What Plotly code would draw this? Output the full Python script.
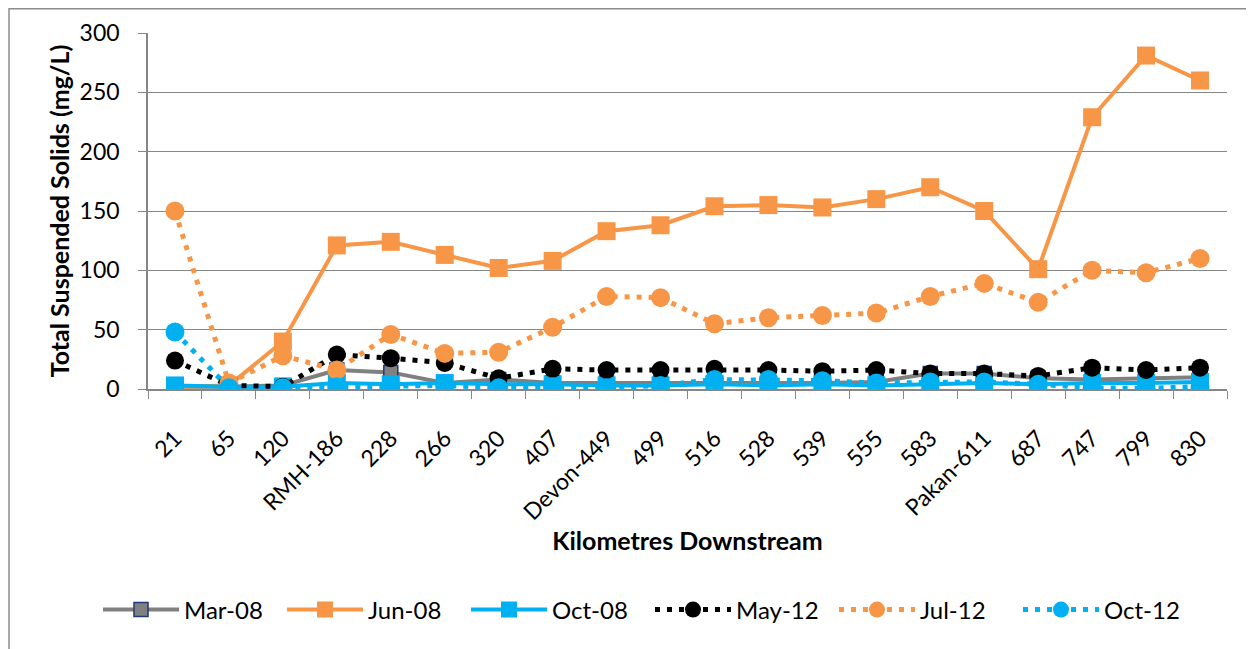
import plotly.graph_objects as go

categories = ["21", "65", "120", "RMH-186", "228", "266", "320", "407", "Devon-449", "499",
              "516", "528", "539", "555", "583", "Pakan-611", "687", "747", "799", "830"]

mar08 = [2, 2, 3, 16, 14, 5, 8, 5, 5, 5, 5, 5, 5, 6, 13, 13, 9, 8, 9, 10]
jun08 = [2, 3, 40, 121, 124, 113, 102, 108, 133, 138, 154, 155, 153, 160, 170, 150, 101, 229, 281, 260]
oct08 = [3, 2, 2, 5, 4, 5, 4, 4, 3, 3, 4, 3, 4, 3, 4, 5, 4, 5, 5, 6]
may12 = [24, 3, 2, 29, 26, 22, 9, 17, 16, 16, 17, 16, 15, 16, 13, 13, 11, 18, 16, 18]
jul12 = [150, 5, 28, 16, 46, 30, 31, 52, 78, 77, 55, 60, 62, 64, 78, 89, 73, 100, 98, 110]
oct12 = [48, 1, 1, 2, 2, 3, 1, 2, 1, 3, 8, 8, 7, 5, 6, 6, 4, 1, 0.5, 2]

ORANGE = "#F79646"
BLUE = "#00B0F0"
GRAY = "#808080"
NAVY = "#1F3A7A"
FONT = "Lato"

# the page body adds an 8px margin, so the figure is offset by 8px
W, H = 1246, 641
L, R, T, B = 140, 27, 25, 260
PW, PH = W - L - R, H - T - B

fig = go.Figure()

fig.add_trace(go.Scatter(x=categories, y=mar08, name="Mar-08", mode="lines+markers",
                         line=dict(color=GRAY, width=4),
                         marker=dict(symbol="square", size=14, color=GRAY,
                                     line=dict(color=NAVY, width=1.5))))
fig.add_trace(go.Scatter(x=categories, y=jun08, name="Jun-08", mode="lines+markers",
                         line=dict(color=ORANGE, width=4),
                         marker=dict(symbol="square", size=18, color=ORANGE)))
fig.add_trace(go.Scatter(x=categories, y=oct08, name="Oct-08", mode="lines+markers",
                         line=dict(color=BLUE, width=4),
                         marker=dict(symbol="square", size=18, color=BLUE)))
fig.add_trace(go.Scatter(x=categories, y=may12, name="May-12", mode="lines+markers",
                         line=dict(color="black", width=5, dash="5px,7px"),
                         marker=dict(symbol="circle", size=18, color="black")))
fig.add_trace(go.Scatter(x=categories, y=jul12, name="Jul-12", mode="lines+markers",
                         line=dict(color=ORANGE, width=5, dash="5px,7px"),
                         marker=dict(symbol="circle", size=19, color=ORANGE)))
fig.add_trace(go.Scatter(x=categories, y=oct12, name="Oct-12", mode="lines+markers",
                         line=dict(color=BLUE, width=5, dash="5px,7px"),
                         marker=dict(symbol="circle", size=19, color=BLUE)))

fig.update_layout(
    width=W, height=H,
    margin=dict(l=L, r=R, t=T, b=B, autoexpand=False),
    paper_bgcolor="white", plot_bgcolor="white",
    font=dict(family=FONT, size=23, color="black"),
    showlegend=True,
    legend=dict(orientation="h", x=-50 / PW, xanchor="left",
                y=(381 - 602) / PH, yanchor="middle",
                font=dict(size=24), entrywidth=93, itemwidth=76, tracegroupgap=0),
    shapes=[dict(type="rect", xref="paper", yref="paper",
                 x0=(1 - L) / PW, x1=(W + 10 - L) / PW,
                 y0=(381 - H - 10) / PH, y1=(381 - 0.75) / PH,
                 line=dict(color="#8C8C8C", width=1.5), fillcolor="rgba(0,0,0,0)",
                 layer="below")],
)

fig.update_xaxes(type="category", range=[-0.5, 19.5], automargin=False,
                 showline=True, linecolor="#868686", linewidth=1.5,
                 ticks="outside", tickson="boundaries", ticklen=8, tickcolor="#868686",
                 tickangle=-45, ticklabelstandoff=25, showgrid=False,
                 title=dict(text="<b>Kilometres Downstream</b>", font=dict(size=25), standoff=0))
fig.update_yaxes(range=[0, 300], dtick=50, automargin=False,
                 showline=True, linecolor="#868686", linewidth=1.5,
                 ticks="outside", ticklen=8, tickcolor="#868686", ticklabelstandoff=14,
                 showgrid=True, gridcolor="#868686", gridwidth=1.2, zeroline=False,
                 title=dict(text="<b>Total Suspended Solids (mg/L)</b>", font=dict(size=25), standoff=3))

fig.write_html("out.html")
